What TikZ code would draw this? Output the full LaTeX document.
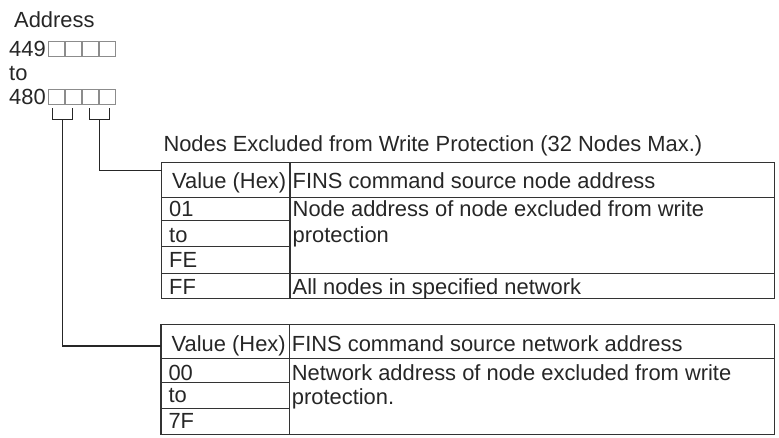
\documentclass[tikz,border=0pt]{standalone}
\usepackage{fontspec}
\setmainfont{Liberation Sans}
\begin{document}
\begin{tikzpicture}[x=1pt,y=-1pt]
        \tikzstyle{txt}=[anchor=base west, inner sep=0pt, font=\fontsize{21.9}{24}\selectfont, text=black!85]
        \tikzstyle{digit}=[draw=black!45, line width=0.9pt, minimum width=15.5pt, minimum height=15pt, inner sep=0pt]
        \tikzstyle{rule}=[draw=black!80, line width=1.1pt]
        \tikzstyle{wire}=[draw=black!85, line width=1.1pt]

        \useasboundingbox (0,0) rectangle (779,437);

        % address words
        \node[txt] (addr) at (14,27) {Address};
        \node[txt] (lo) at (9,56.5) {449};
        \node[txt] (to) at (9,80) {to};
        \node[txt] (hi) at (9,104) {480};
        \foreach \i in {0,...,3} {
            \node[digit] (l\i) at (56.5+17*\i,49) {};
            \node[digit] (h\i) at (56.5+17*\i,97) {};
        }

        % brackets
        \draw[wire] (52.7,108.3) -- (52.7,119.3) -- (72.7,119.3) -- (72.7,108.3);
        \draw[wire] (89.3,108.3) -- (89.3,119.3) -- (109.3,119.3) -- (109.3,108.3);
        \coordinate (net) at (62.3,119.3);
        \coordinate (nod) at (99.3,119.3);

        % node table
        \node[txt] (ttl) at (163.3,151.7) {Nodes Excluded from Write Protection (32 Nodes Max.)};
        \coordinate (t1) at (161.7,170.7);
        \draw[rule] (161.7,162.7) rectangle (774.5,298.3);
        \draw[rule] (290,162.7) -- (290,298.3);
        \draw[rule] (161.7,197.3) -- (774.5,197.3);
        \draw[rule] (161.7,273.3) -- (774.5,273.3);
        \draw[rule] (161.7,220.7) -- (290,220.7);
        \draw[rule] (161.7,246.7) -- (290,246.7);
        \node[txt] (h1a) at (172,188.5) {Value (Hex)};
        \node[txt] (h1b) at (292.5,188.5) {FINS command source node address};
        \node[txt] (v01) at (169,216.5) {01};
        \node[txt] (v1to) at (169,242) {to};
        \node[txt] (vFE) at (169,267.5) {FE};
        \node[txt] (vFF) at (169,294) {FF};
        \node[txt] (d1a) at (292.5,216.5) {Node address of node excluded from write};
        \node[txt] (d1b) at (292.5,242) {protection};
        \node[txt] (d1c) at (292.5,294) {All nodes in specified network};

        % network table
        \coordinate (t2) at (161,346);
        \draw[rule] (161,324.3) rectangle (774.5,434.3);
        \draw[rule] (289.3,324.3) -- (289.3,434.3);
        \draw[rule] (161,358.3) -- (774.5,358.3);
        \draw[rule] (161,382.3) -- (289.3,382.3);
        \draw[rule] (161,408.3) -- (289.3,408.3);
        \node[txt] (h2a) at (171.5,351) {Value (Hex)};
        \node[txt] (h2b) at (291.7,351) {FINS command source network address};
        \node[txt] (v00) at (168.3,380) {00};
        \node[txt] (v2to) at (168.3,402.5) {to};
        \node[txt] (v7F) at (168.3,428.5) {7F};
        \node[txt] (d2a) at (291.7,380) {Network address of node excluded from write};
        \node[txt] (d2b) at (291.7,404) {protection.};

        \draw[wire] (nod) |- (t1);
        \draw[wire] (net) |- (t2);
    \end{tikzpicture}
\end{document}
